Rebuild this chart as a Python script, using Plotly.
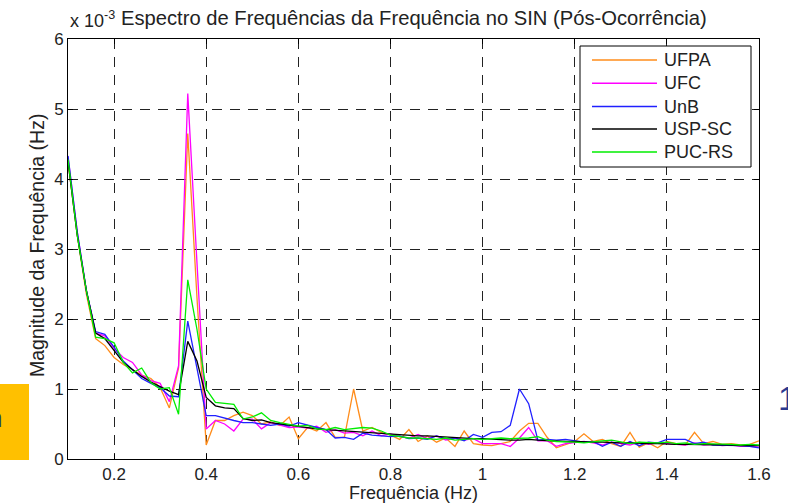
import plotly.graph_objects as go

# Frequency axis (Hz) and spectrum magnitudes (x 10^-3 Hz)
freq = [round(0.10 + 0.02 * i, 2) for i in range(76)]

ufpa = [4.25, 3.20, 2.35, 1.72, 1.62, 1.45, 1.35, 1.28, 1.20, 1.15,
        1.02, 0.73, 1.30, 4.65, 2.30, 0.20, 0.55, 0.55, 0.62, 0.67,
        0.62, 0.50, 0.53, 0.48, 0.60, 0.29, 0.45, 0.40, 0.52, 0.31,
        0.31, 1.00, 0.40, 0.45, 0.38, 0.34, 0.28, 0.42, 0.25, 0.33,
        0.24, 0.30, 0.18, 0.40, 0.22, 0.20, 0.19, 0.22, 0.25, 0.40,
        0.51, 0.51, 0.31, 0.16, 0.20, 0.25, 0.36, 0.25, 0.28, 0.22,
        0.18, 0.38, 0.17, 0.23, 0.16, 0.25, 0.22, 0.20, 0.38, 0.22,
        0.25, 0.21, 0.22, 0.20, 0.21, 0.26]

ufc = [4.32, 3.25, 2.40, 1.80, 1.76, 1.58, 1.45, 1.38, 1.20, 1.12,
       1.08, 0.82, 1.33, 5.22, 2.80, 0.43, 0.55, 0.50, 0.40, 0.57,
       0.57, 0.43, 0.52, 0.48, 0.45, 0.46, 0.44, 0.47, 0.38, 0.42,
       0.37, 0.38, 0.33, 0.40, 0.33, 0.36, 0.32, 0.30, 0.35, 0.29,
       0.33, 0.27, 0.30, 0.27, 0.29, 0.22, 0.22, 0.22, 0.18, 0.30,
       0.45, 0.26, 0.26, 0.18, 0.22, 0.24, 0.25, 0.23, 0.20, 0.24,
       0.22, 0.20, 0.24, 0.21, 0.23, 0.22, 0.21, 0.20, 0.23, 0.20,
       0.21, 0.19, 0.20, 0.18, 0.18, 0.17]

unb = [4.33, 3.25, 2.40, 1.82, 1.78, 1.60, 1.40, 1.28, 1.15, 1.08,
       1.02, 0.90, 0.89, 1.97, 1.30, 0.62, 0.62, 0.58, 0.55, 0.52,
       0.52, 0.50, 0.48, 0.50, 0.47, 0.52, 0.48, 0.45, 0.42, 0.30,
       0.31, 0.28, 0.37, 0.34, 0.33, 0.32, 0.33, 0.29, 0.30, 0.28,
       0.33, 0.29, 0.30, 0.26, 0.35, 0.31, 0.38, 0.39, 0.48, 1.00,
       0.79, 0.27, 0.28, 0.27, 0.28, 0.26, 0.24, 0.25, 0.18, 0.24,
       0.18, 0.25, 0.19, 0.24, 0.23, 0.28, 0.28, 0.28, 0.22, 0.24,
       0.20, 0.20, 0.19, 0.19, 0.18, 0.16]

uspsc = [4.25, 3.20, 2.40, 1.80, 1.72, 1.55, 1.38, 1.28, 1.18, 1.10,
         1.03, 0.97, 0.92, 1.68, 1.40, 0.88, 0.76, 0.73, 0.72, 0.58,
         0.55, 0.56, 0.52, 0.50, 0.48, 0.46, 0.45, 0.43, 0.42, 0.41,
         0.40, 0.39, 0.38, 0.38, 0.37, 0.36, 0.35, 0.34, 0.33, 0.33,
         0.32, 0.31, 0.31, 0.30, 0.29, 0.29, 0.28, 0.28, 0.27, 0.27,
         0.28, 0.27, 0.26, 0.26, 0.25, 0.25, 0.24, 0.24, 0.24, 0.23,
         0.23, 0.23, 0.22, 0.22, 0.22, 0.21, 0.21, 0.21, 0.21, 0.20,
         0.20, 0.20, 0.20, 0.19, 0.19, 0.19]

pucrs = [4.28, 3.20, 2.40, 1.74, 1.72, 1.66, 1.38, 1.23, 1.30, 1.09,
         1.00, 1.02, 0.64, 2.56, 1.85, 1.00, 0.81, 0.79, 0.78, 0.57,
         0.60, 0.66, 0.55, 0.52, 0.50, 0.47, 0.48, 0.43, 0.42, 0.45,
         0.42, 0.44, 0.45, 0.44, 0.40, 0.34, 0.32, 0.30, 0.30, 0.29,
         0.28, 0.30, 0.27, 0.28, 0.29, 0.28, 0.29, 0.30, 0.29, 0.29,
         0.30, 0.32, 0.27, 0.25, 0.25, 0.24, 0.23, 0.25, 0.26, 0.27,
         0.25, 0.22, 0.24, 0.23, 0.23, 0.24, 0.22, 0.23, 0.21, 0.22,
         0.22, 0.21, 0.21, 0.20, 0.21, 0.20]

series_names = ["UFPA", "UFC", "UnB", "USP-SC", "PUC-RS"]
series_values = [ufpa, ufc, unb, uspsc, pucrs]
series_colors = ["#FF8C1A", "#FF00FF", "#2020FF", "#000000", "#00EE00"]

x_ticks = [0.2, 0.4, 0.6, 0.8, 1.0, 1.2, 1.4, 1.6]
x_ticktext = ["0.2", "0.4", "0.6", "0.8", "1", "1.2", "1.4", "1.6"]
y_ticks = [0, 1, 2, 3, 4, 5, 6]

title_text = "Espectro de Frequências da Frequência no SIN (Pós-Ocorrência)"
x_title = "Frequência (Hz)"
y_title = "Magnitude da Frequência (Hz)"

FONT = "Liberation Sans, Arial, sans-serif"
TXT = "#222222"

W, H = 788, 503
ML, MR, MT, MB = 68, 29, 39, 44
PW, PH = W - ML - MR, H - MT - MB


def px(xp):
    """pixel x -> paper x"""
    return (xp - ML) / PW


def py(yp):
    """pixel y -> paper y"""
    return (H - MB - yp) / PH


fig = go.Figure()
for name, vals, col in zip(series_names, series_values, series_colors):
    fig.add_trace(go.Scatter(x=freq, y=vals, mode="lines", name=name,
                             line=dict(color=col, width=1.3), showlegend=False))

axis_common = dict(showline=True, linecolor="black", linewidth=1, mirror="allticks",
                   ticks="inside", ticklen=5, tickcolor="black",
                   showgrid=True, gridcolor="#222222", gridwidth=1, griddash="10px,8px",
                   zeroline=False, tickfont=dict(family=FONT, size=17, color=TXT))

fig.update_xaxes(range=[0.1, 1.6], tickvals=x_ticks, ticktext=x_ticktext, **axis_common)
fig.update_yaxes(range=[0, 6], tickvals=y_ticks, **axis_common)

annotations = [
    dict(text="x 10<sup>-3</sup>", xref="paper", yref="paper", x=px(68), y=py(20),
         xanchor="left", yanchor="middle", showarrow=False,
         font=dict(family=FONT, size=18, color=TXT)),
    dict(text=title_text, xref="paper", yref="paper", x=px(414), y=py(18.5),
         xanchor="center", yanchor="middle", showarrow=False,
         font=dict(family=FONT, size=20.2, color=TXT)),
    dict(text=x_title, xref="paper", yref="paper", x=0.5, y=py(492.5),
         xanchor="center", yanchor="middle", showarrow=False,
         font=dict(family=FONT, size=18, color=TXT)),
    dict(text=y_title, xref="paper", yref="paper", x=px(37), y=py(246),
         xanchor="center", yanchor="middle", showarrow=False, textangle=-90,
         font=dict(family=FONT, size=19.5, color=TXT)),
    dict(text="1", xref="paper", yref="paper", x=px(776), y=py(398),
         xanchor="left", yanchor="middle", showarrow=False,
         font=dict(family=FONT, size=34, color="#2B3990")),
    dict(text="h", xref="paper", yref="paper", x=px(4), y=py(418),
         xanchor="right", yanchor="middle", showarrow=False,
         font=dict(family=FONT, size=26, color="#1F3A93")),
]

shapes = [
    dict(type="rect", xref="paper", yref="paper",
         x0=px(0), x1=px(29), y0=py(460), y1=py(384),
         fillcolor="#FFC000", line=dict(width=0), layer="below"),
    # legend box
    dict(type="rect", xref="paper", yref="paper",
         x0=px(580), x1=px(751), y0=py(167), y1=py(46),
         fillcolor="white", line=dict(color="black", width=1), layer="above"),
]

# legend entries (samples + labels)
legend_rows = [60, 83.3, 106.5, 129, 152]
for name, col, ry in zip(series_names, series_colors, legend_rows):
    shapes.append(dict(type="line", xref="paper", yref="paper",
                       x0=px(592), x1=px(657), y0=py(ry), y1=py(ry),
                       line=dict(color=col, width=1.4), layer="above"))
    annotations.append(dict(text=name, xref="paper", yref="paper", x=px(662), y=py(ry),
                            xanchor="left", yanchor="middle", showarrow=False,
                            font=dict(family=FONT, size=18, color=TXT)))

fig.update_layout(
    width=W, height=H,
    margin=dict(l=ML, r=MR, t=MT, b=MB),
    paper_bgcolor="white", plot_bgcolor="white",
    font=dict(family=FONT, color=TXT),
    showlegend=False,
    annotations=annotations,
    shapes=shapes,
)

fig.write_html("out.html")
